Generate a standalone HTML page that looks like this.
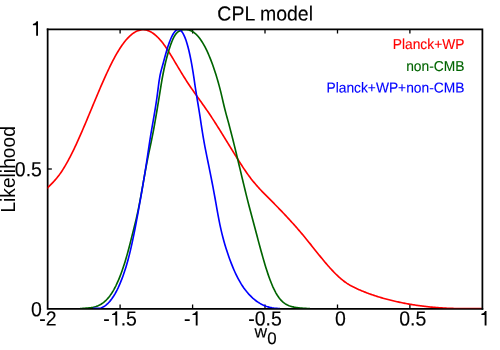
<!DOCTYPE html>
<html>
<head>
<meta charset="utf-8">
<title>CPL model</title>
<style>
html,body{margin:0;padding:0;background:#fff;}
body{width:500px;height:350px;overflow:hidden;}
svg{display:block;will-change:transform;}
text{font-family:"Liberation Sans",sans-serif;fill:#000;stroke:#000;stroke-width:0.12px;}
.t{font-size:19.5px;}
.k{font-size:19.5px;}
.l{font-size:13.8px;stroke-width:0.04px;}
.h{fill:none;stroke:none;}
</style>
</head>
<body>
<svg width="500" height="350" viewBox="0 0 500 350">
<defs>
<clipPath id="cp"><rect x="47.65" y="20" width="434.75" height="288.2"/></clipPath>
<path id="one" d="M0 0H-1.85V-10.45H-5.1V-11.6Q-2.6 -11.7 -1.4 -14.4H0Z"/>
</defs>
<rect x="0" y="0" width="500" height="350" fill="#fff"/>
<!-- axes box -->
<path d="M47.65 28.375V308.8H483.275" fill="none" stroke="#000" stroke-width="1.75"/>
<!-- ticks -->
<g stroke="#000" stroke-width="1.3">
<path d="M120.1 308.8v-4.2M192.6 308.8v-4.2M265 308.8v-4.2M337.5 308.8v-4.2M409.9 308.8v-4.2"/>
<path d="M120.1 29.25v4.2M192.6 29.25v4.2M265 29.25v4.2M337.5 29.25v4.2M409.9 29.25v4.2"/>
<path d="M47.65 169h4.2"/>
</g>
<!-- curves -->
<g fill="none" stroke-width="1.65" stroke-linejoin="round" stroke-linecap="butt" clip-path="url(#cp)">
<path stroke="#ff0000" d="M40.0 195.29 L41.0 194.26 L42.0 193.25 L43.0 192.25 L44.0 191.28 L45.0 190.31 L46.0 189.34 L47.0 188.38 L48.0 187.42 L49.0 186.44 L50.0 185.45 L51.0 184.45 L52.0 183.42 L53.0 182.37 L54.0 181.28 L55.0 180.16 L56.0 179.00 L57.0 177.80 L58.0 176.54 L59.0 175.24 L60.0 173.87 L61.0 172.44 L62.0 170.95 L63.0 169.40 L64.0 167.80 L65.0 166.13 L66.0 164.42 L67.0 162.65 L68.0 160.84 L69.0 158.98 L70.0 157.07 L71.0 155.12 L72.0 153.12 L73.0 151.09 L74.0 149.02 L75.0 146.92 L76.0 144.78 L77.0 142.61 L78.0 140.41 L79.0 138.18 L80.0 135.92 L81.0 133.64 L82.0 131.34 L83.0 129.02 L84.0 126.68 L85.0 124.33 L86.0 121.96 L87.0 119.58 L88.0 117.19 L89.0 114.79 L90.0 112.38 L91.0 109.98 L92.0 107.57 L93.0 105.16 L94.0 102.76 L95.0 100.36 L96.0 97.97 L97.0 95.59 L98.0 93.21 L99.0 90.86 L100.0 88.52 L101.0 86.19 L102.0 83.89 L103.0 81.61 L104.0 79.35 L105.0 77.12 L106.0 74.92 L107.0 72.75 L108.0 70.61 L109.0 68.51 L110.0 66.44 L111.0 64.41 L112.0 62.43 L113.0 60.48 L114.0 58.58 L115.0 56.73 L116.0 54.93 L117.0 53.19 L118.0 51.49 L119.0 49.85 L120.0 48.27 L121.0 46.75 L122.0 45.29 L123.0 43.89 L124.0 42.56 L125.0 41.29 L126.0 40.08 L127.0 38.93 L128.0 37.85 L129.0 36.83 L130.0 35.88 L131.0 35.00 L132.0 34.18 L133.0 33.43 L134.0 32.74 L135.0 32.13 L136.0 31.58 L137.0 31.11 L138.0 30.70 L139.0 30.37 L140.0 30.10 L141.0 29.91 L142.0 29.79 L143.0 29.75 L144.0 29.77 L145.0 29.87 L146.0 30.05 L147.0 30.30 L148.0 30.62 L149.0 31.01 L150.0 31.47 L151.0 31.99 L152.0 32.59 L153.0 33.25 L154.0 33.98 L155.0 34.77 L156.0 35.63 L157.0 36.55 L158.0 37.53 L159.0 38.57 L160.0 39.68 L161.0 40.84 L162.0 42.06 L163.0 43.34 L164.0 44.67 L165.0 46.06 L166.0 47.51 L167.0 49.00 L168.0 50.54 L169.0 52.11 L170.0 53.72 L171.0 55.35 L172.0 57.01 L173.0 58.68 L174.0 60.37 L175.0 62.05 L176.0 63.74 L177.0 65.43 L178.0 67.11 L179.0 68.78 L180.0 70.44 L181.0 72.09 L182.0 73.72 L183.0 75.35 L184.0 76.96 L185.0 78.55 L186.0 80.12 L187.0 81.68 L188.0 83.21 L189.0 84.72 L190.0 86.21 L191.0 87.69 L192.0 89.15 L193.0 90.59 L194.0 92.02 L195.0 93.44 L196.0 94.85 L197.0 96.26 L198.0 97.66 L199.0 99.06 L200.0 100.45 L201.0 101.85 L202.0 103.25 L203.0 104.66 L204.0 106.07 L205.0 107.50 L206.0 108.93 L207.0 110.37 L208.0 111.83 L209.0 113.31 L210.0 114.80 L211.0 116.31 L212.0 117.83 L213.0 119.36 L214.0 120.91 L215.0 122.47 L216.0 124.04 L217.0 125.61 L218.0 127.20 L219.0 128.80 L220.0 130.40 L221.0 132.01 L222.0 133.62 L223.0 135.24 L224.0 136.87 L225.0 138.49 L226.0 140.12 L227.0 141.75 L228.0 143.39 L229.0 145.02 L230.0 146.65 L231.0 148.27 L232.0 149.90 L233.0 151.52 L234.0 153.14 L235.0 154.75 L236.0 156.36 L237.0 157.96 L238.0 159.55 L239.0 161.13 L240.0 162.70 L241.0 164.26 L242.0 165.81 L243.0 167.33 L244.0 168.84 L245.0 170.33 L246.0 171.79 L247.0 173.22 L248.0 174.63 L249.0 176.01 L250.0 177.35 L251.0 178.66 L252.0 179.94 L253.0 181.19 L254.0 182.40 L255.0 183.59 L256.0 184.76 L257.0 185.90 L258.0 187.01 L259.0 188.11 L260.0 189.19 L261.0 190.26 L262.0 191.31 L263.0 192.34 L264.0 193.37 L265.0 194.39 L266.0 195.40 L267.0 196.40 L268.0 197.41 L269.0 198.41 L270.0 199.41 L271.0 200.42 L272.0 201.42 L273.0 202.43 L274.0 203.45 L275.0 204.46 L276.0 205.48 L277.0 206.51 L278.0 207.53 L279.0 208.57 L280.0 209.60 L281.0 210.64 L282.0 211.69 L283.0 212.74 L284.0 213.79 L285.0 214.85 L286.0 215.92 L287.0 216.99 L288.0 218.07 L289.0 219.15 L290.0 220.24 L291.0 221.34 L292.0 222.44 L293.0 223.55 L294.0 224.67 L295.0 225.79 L296.0 226.92 L297.0 228.06 L298.0 229.21 L299.0 230.37 L300.0 231.53 L301.0 232.70 L302.0 233.88 L303.0 235.07 L304.0 236.27 L305.0 237.48 L306.0 238.70 L307.0 239.93 L308.0 241.16 L309.0 242.40 L310.0 243.64 L311.0 244.89 L312.0 246.15 L313.0 247.40 L314.0 248.65 L315.0 249.91 L316.0 251.16 L317.0 252.41 L318.0 253.66 L319.0 254.90 L320.0 256.14 L321.0 257.37 L322.0 258.59 L323.0 259.80 L324.0 261.00 L325.0 262.19 L326.0 263.37 L327.0 264.53 L328.0 265.68 L329.0 266.82 L330.0 267.94 L331.0 269.04 L332.0 270.12 L333.0 271.18 L334.0 272.22 L335.0 273.24 L336.0 274.23 L337.0 275.20 L338.0 276.15 L339.0 277.06 L340.0 277.96 L341.0 278.82 L342.0 279.65 L343.0 280.46 L344.0 281.23 L345.0 281.97 L346.0 282.68 L347.0 283.36 L348.0 284.00 L349.0 284.62 L350.0 285.22 L351.0 285.79 L352.0 286.33 L353.0 286.86 L354.0 287.36 L355.0 287.85 L356.0 288.33 L357.0 288.79 L358.0 289.23 L359.0 289.67 L360.0 290.10 L361.0 290.52 L362.0 290.93 L363.0 291.34 L364.0 291.74 L365.0 292.13 L366.0 292.52 L367.0 292.90 L368.0 293.28 L369.0 293.65 L370.0 294.01 L371.0 294.36 L372.0 294.71 L373.0 295.06 L374.0 295.39 L375.0 295.73 L376.0 296.05 L377.0 296.37 L378.0 296.69 L379.0 297.00 L380.0 297.30 L381.0 297.60 L382.0 297.89 L383.0 298.18 L384.0 298.46 L385.0 298.74 L386.0 299.01 L387.0 299.28 L388.0 299.54 L389.0 299.80 L390.0 300.05 L391.0 300.30 L392.0 300.55 L393.0 300.79 L394.0 301.02 L395.0 301.25 L396.0 301.48 L397.0 301.70 L398.0 301.92 L399.0 302.13 L400.0 302.34 L401.0 302.55 L402.0 302.75 L403.0 302.95 L404.0 303.15 L405.0 303.34 L406.0 303.53 L407.0 303.71 L408.0 303.89 L409.0 304.07 L410.0 304.24 L411.0 304.41 L412.0 304.58 L413.0 304.74 L414.0 304.90 L415.0 305.06 L416.0 305.21 L417.0 305.35 L418.0 305.50 L419.0 305.64 L420.0 305.78 L421.0 305.91 L422.0 306.04 L423.0 306.17 L424.0 306.29 L425.0 306.41 L426.0 306.53 L427.0 306.64 L428.0 306.75 L429.0 306.86 L430.0 306.96 L431.0 307.06 L432.0 307.16 L433.0 307.25 L434.0 307.34 L435.0 307.42 L436.0 307.51 L437.0 307.59 L438.0 307.66 L439.0 307.74 L440.0 307.81 L441.0 307.88 L442.0 307.94 L443.0 308.00 L444.0 308.06 L445.0 308.11 L446.0 308.16 L447.0 308.21 L448.0 308.26 L449.0 308.30 L450.0 308.34 L451.0 308.38 L452.0 308.41 L453.0 308.44 L454.0 308.47 L455.0 308.49 L456.0 308.51 L457.0 308.53 L458.0 308.55 L459.0 308.56 L460.0 308.57 L461.0 308.58 L462.0 308.58 L463.0 308.58 L464.0 308.58 L465.0 308.58 L466.0 308.58 L467.0 308.58 L468.0 308.58 L469.0 308.58 L470.0 308.58 L471.0 308.58 L472.0 308.58 L473.0 308.58 L474.0 308.58 L475.0 308.58 L476.0 308.58 L477.0 308.58 L478.0 308.58 L479.0 308.58 L480.0 308.58 L481.0 308.58 L482.0 308.58 L482.4 308.58"/>
<path stroke="#006400" d="M80.0 308.60 L81.0 308.55 L82.0 308.45 L83.0 308.36 L84.0 308.29 L85.0 308.21 L86.0 308.14 L87.0 308.06 L88.0 307.97 L89.0 307.87 L90.0 307.75 L91.0 307.62 L92.0 307.45 L93.0 307.26 L94.0 307.04 L95.0 306.78 L96.0 306.47 L97.0 306.13 L98.0 305.73 L99.0 305.28 L100.0 304.77 L101.0 304.20 L102.0 303.57 L103.0 302.86 L104.0 302.09 L105.0 301.23 L106.0 300.29 L107.0 299.27 L108.0 298.15 L109.0 296.95 L110.0 295.64 L111.0 294.23 L112.0 292.72 L113.0 291.10 L114.0 289.36 L115.0 287.50 L116.0 285.52 L117.0 283.42 L118.0 281.20 L119.0 278.84 L120.0 276.36 L121.0 273.74 L122.0 270.99 L123.0 268.10 L124.0 265.07 L125.0 261.90 L126.0 258.58 L127.0 255.12 L128.0 251.50 L129.0 247.74 L130.0 243.83 L131.0 239.85 L132.0 235.86 L133.0 231.93 L134.0 228.03 L135.0 224.07 L136.0 219.93 L137.0 215.54 L138.0 210.86 L139.0 205.92 L140.0 200.71 L141.0 195.30 L142.0 189.74 L143.0 184.11 L144.0 178.46 L145.0 172.85 L146.0 167.36 L147.0 162.05 L148.0 156.98 L149.0 152.16 L150.0 147.46 L151.0 142.77 L152.0 137.93 L153.0 132.84 L154.0 127.51 L155.0 121.95 L156.0 116.19 L157.0 110.25 L158.0 104.18 L159.0 98.03 L160.0 91.83 L161.0 85.65 L162.0 79.70 L163.0 74.24 L164.0 69.27 L165.0 64.75 L166.0 60.60 L167.0 56.77 L168.0 53.20 L169.0 49.85 L170.0 46.72 L171.0 43.84 L172.0 41.22 L173.0 38.90 L174.0 36.89 L175.0 35.21 L176.0 33.83 L177.0 32.72 L178.0 31.84 L179.0 31.16 L180.0 30.65 L181.0 30.27 L182.0 29.99 L183.0 29.78 L184.0 29.70 L185.0 29.70 L186.0 29.70 L187.0 29.70 L188.0 29.81 L189.0 30.05 L190.0 30.37 L191.0 30.78 L192.0 31.28 L193.0 31.87 L194.0 32.55 L195.0 33.34 L196.0 34.22 L197.0 35.21 L198.0 36.30 L199.0 37.50 L200.0 38.80 L201.0 40.21 L202.0 41.73 L203.0 43.35 L204.0 45.09 L205.0 46.94 L206.0 48.90 L207.0 50.97 L208.0 53.16 L209.0 55.46 L210.0 57.87 L211.0 60.41 L212.0 63.06 L213.0 65.83 L214.0 68.72 L215.0 71.73 L216.0 74.86 L217.0 78.12 L218.0 81.52 L219.0 85.10 L220.0 88.88 L221.0 92.87 L222.0 97.11 L223.0 101.50 L224.0 105.80 L225.0 109.82 L226.0 113.60 L227.0 117.24 L228.0 120.87 L229.0 124.56 L230.0 128.34 L231.0 132.18 L232.0 136.09 L233.0 140.06 L234.0 144.08 L235.0 148.14 L236.0 152.25 L237.0 156.38 L238.0 160.55 L239.0 164.73 L240.0 168.92 L241.0 173.12 L242.0 177.32 L243.0 181.50 L244.0 185.66 L245.0 189.79 L246.0 193.88 L247.0 197.90 L248.0 201.87 L249.0 205.75 L250.0 209.56 L251.0 213.30 L252.0 217.02 L253.0 220.74 L254.0 224.49 L255.0 228.27 L256.0 232.05 L257.0 235.83 L258.0 239.60 L259.0 243.34 L260.0 247.05 L261.0 250.72 L262.0 254.33 L263.0 257.86 L264.0 261.32 L265.0 264.69 L266.0 267.95 L267.0 271.09 L268.0 274.12 L269.0 277.00 L270.0 279.74 L271.0 282.32 L272.0 284.76 L273.0 287.06 L274.0 289.20 L275.0 291.20 L276.0 293.05 L277.0 294.75 L278.0 296.31 L279.0 297.73 L280.0 299.01 L281.0 300.15 L282.0 301.18 L283.0 302.10 L284.0 302.91 L285.0 303.62 L286.0 304.25 L287.0 304.80 L288.0 305.27 L289.0 305.69 L290.0 306.04 L291.0 306.35 L292.0 306.63 L293.0 306.87 L294.0 307.09 L295.0 307.28 L296.0 307.46 L297.0 307.62 L298.0 307.76 L299.0 307.89 L300.0 308.00 L301.0 308.10 L302.0 308.19 L303.0 308.26 L304.0 308.33 L305.0 308.39 L306.0 308.44 L307.0 308.49 L308.0 308.53 L309.0 308.57 L310.0 308.60"/>
<path stroke="#0000ff" d="M93.0 308.34 L94.0 308.34 L95.0 308.34 L96.0 308.34 L97.0 308.34 L98.0 308.34 L99.0 308.34 L100.0 308.23 L101.0 307.92 L102.0 307.52 L103.0 307.04 L104.0 306.48 L105.0 305.82 L106.0 305.08 L107.0 304.23 L108.0 303.30 L109.0 302.26 L110.0 301.12 L111.0 299.88 L112.0 298.53 L113.0 297.07 L114.0 295.50 L115.0 293.81 L116.0 292.01 L117.0 290.09 L118.0 288.05 L119.0 285.89 L120.0 283.60 L121.0 281.18 L122.0 278.63 L123.0 275.93 L124.0 273.08 L125.0 270.07 L126.0 266.88 L127.0 263.50 L128.0 259.92 L129.0 256.13 L130.0 252.12 L131.0 247.88 L132.0 243.40 L133.0 238.70 L134.0 233.80 L135.0 228.73 L136.0 223.51 L137.0 218.17 L138.0 212.73 L139.0 207.21 L140.0 201.63 L141.0 195.99 L142.0 190.26 L143.0 184.41 L144.0 178.45 L145.0 172.33 L146.0 166.05 L147.0 159.59 L148.0 152.93 L149.0 146.18 L150.0 139.62 L151.0 133.46 L152.0 127.61 L153.0 121.89 L154.0 116.15 L155.0 110.20 L156.0 103.88 L157.0 97.01 L158.0 89.44 L159.0 81.59 L160.0 75.53 L161.0 71.14 L162.0 67.54 L163.0 63.96 L164.0 60.26 L165.0 56.56 L166.0 52.97 L167.0 49.56 L168.0 46.37 L169.0 43.41 L170.0 40.71 L171.0 38.27 L172.0 36.11 L173.0 34.24 L174.0 32.66 L175.0 31.39 L176.0 30.43 L177.0 29.80 L178.0 29.70 L179.0 29.70 L180.0 29.96 L181.0 30.73 L182.0 31.87 L183.0 33.39 L184.0 35.30 L185.0 37.61 L186.0 40.33 L187.0 43.46 L188.0 47.01 L189.0 51.00 L190.0 55.47 L191.0 60.42 L192.0 65.90 L193.0 71.92 L194.0 78.47 L195.0 85.27 L196.0 91.89 L197.0 98.06 L198.0 103.99 L199.0 110.05 L200.0 116.46 L201.0 123.09 L202.0 129.68 L203.0 135.95 L204.0 141.73 L205.0 147.09 L206.0 152.16 L207.0 157.09 L208.0 161.99 L209.0 166.92 L210.0 171.88 L211.0 176.90 L212.0 182.00 L213.0 187.21 L214.0 192.54 L215.0 198.02 L216.0 203.64 L217.0 209.29 L218.0 214.83 L219.0 220.12 L220.0 225.04 L221.0 229.61 L222.0 233.85 L223.0 237.80 L224.0 241.48 L225.0 244.94 L226.0 248.21 L227.0 251.31 L228.0 254.29 L229.0 257.16 L230.0 259.94 L231.0 262.61 L232.0 265.17 L233.0 267.63 L234.0 269.98 L235.0 272.23 L236.0 274.37 L237.0 276.41 L238.0 278.35 L239.0 280.20 L240.0 281.96 L241.0 283.64 L242.0 285.23 L243.0 286.74 L244.0 288.18 L245.0 289.55 L246.0 290.85 L247.0 292.08 L248.0 293.25 L249.0 294.37 L250.0 295.43 L251.0 296.43 L252.0 297.39 L253.0 298.30 L254.0 299.16 L255.0 299.98 L256.0 300.75 L257.0 301.48 L258.0 302.16 L259.0 302.80 L260.0 303.40 L261.0 303.96 L262.0 304.48 L263.0 304.97 L264.0 305.41 L265.0 305.83 L266.0 306.21 L267.0 306.55 L268.0 306.86 L269.0 307.15 L270.0 307.40 L271.0 307.62 L272.0 307.82 L273.0 307.99 L274.0 308.14 L275.0 308.26 L276.0 308.36 L277.0 308.43 L278.0 308.49 L279.0 308.52 L280.0 308.54"/>
</g>
<path d="M46.775 29.25H482.4V309.675" fill="none" stroke="#000" stroke-width="1.75"/>
<!-- title -->
<text class="t" transform="translate(265.2 20.6) rotate(0.03) scale(1 1.04)" text-anchor="middle">CPL model</text>
<!-- x tick labels -->
<g class="k" text-anchor="middle">
<text transform="translate(47.8 325.55) rotate(0.03) scale(1 1.045)">-2</text>
<text transform="translate(120.1 325.55) rotate(0.03) scale(1 1.045)">-<tspan class="h">1</tspan>.5</text>
<text transform="translate(192.6 325.55) rotate(0.03) scale(1 1.045)">-<tspan class="h">1</tspan></text>
<text transform="translate(265 325.55) rotate(0.03) scale(1 1.045)">-0.5</text>
<text transform="translate(340.3 325.55) rotate(0.03) scale(1 1.045)">0</text>
<text transform="translate(412.7 325.55) rotate(0.03) scale(1 1.045)">0.5</text>
<text class="h" transform="translate(484.9 325.3) scale(1 1.045)">1</text>
</g>
<use href="#one" x="117.2" y="325.55"/>
<use href="#one" x="197.6" y="325.55"/>
<use href="#one" x="486.5" y="325.4"/>
<!-- y tick labels -->
<g class="k" text-anchor="end">
<text class="h" transform="translate(42.3 35.7) scale(1 1.045)">1</text>
<text transform="translate(41.9 176.2) rotate(0.03) scale(1 1.045)">0.5</text>
<text transform="translate(41.9 316.2) rotate(0.03) scale(1 1.045)">0</text>
</g>
<use href="#one" x="38" y="35.7"/>
<!-- axis labels -->
<text style="font-size:17.4px" transform="translate(254.6 337.5) rotate(0.03)">w<tspan font-size="16.9" dy="6.55">0</tspan></text>
<text style="font-size:19.2px;stroke-width:0" transform="translate(15.2 169.4) rotate(-90) scale(1 1.04)" text-anchor="middle">Likelihood</text>
<!-- legend -->
<g class="l" text-anchor="end">
<text transform="translate(464.4 49) rotate(0.03) scale(1 1.04)" style="fill:#ff0000;stroke:#ff0000">Planck+WP</text>
<text transform="translate(464.4 71) rotate(0.03) scale(1 1.04)" style="fill:#006400;stroke:#006400">non-CMB</text>
<text transform="translate(464.4 92.6) rotate(0.03) scale(1 1.04)" style="fill:#0000ff;stroke:#0000ff">Planck+WP+non-CMB</text>
</g>
</svg>
</body>
</html>
